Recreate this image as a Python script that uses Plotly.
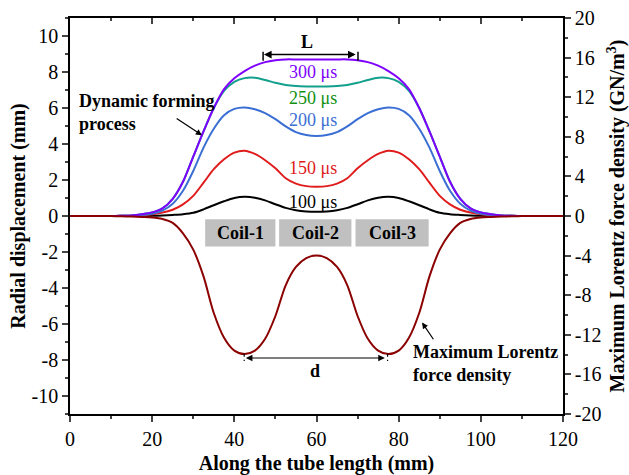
import plotly.graph_objects as go

# ---------------- data ----------------
x_mm = [0, 5, 10, 12.5, 15, 17.5, 20, 22.5, 25, 27.5, 30, 32.5, 35, 37.5, 40, 42.5, 45, 47.5, 50, 52.5, 55, 57.5, 60,
        62.5, 65, 67.5, 70, 72.5, 75, 77.5, 80, 82.5, 85, 87.5, 90, 92.5, 95, 97.5, 100, 102.5, 105, 107.5, 110, 115, 120]

disp_100us = [0, 0, 0, 0, 0, 0, 0.01, 0.03, 0.06, 0.1, 0.18, 0.37, 0.6, 0.82, 1.0, 1.07, 1.02, 0.87, 0.65, 0.45, 0.32, 0.25, 0.23,
              0.25, 0.32, 0.45, 0.65, 0.87, 1.02, 1.07, 1.0, 0.82, 0.6, 0.37, 0.18, 0.1, 0.06, 0.03, 0.01, 0, 0, 0, 0, 0, 0]
disp_150us = [0, 0, 0, 0.01, 0.02, 0.05, 0.1, 0.2, 0.35, 0.65, 1.12, 1.85, 2.6, 3.15, 3.52, 3.63, 3.45, 3.1, 2.65, 2.1, 1.8, 1.66, 1.63,
              1.66, 1.8, 2.1, 2.65, 3.1, 3.45, 3.63, 3.52, 3.15, 2.6, 1.85, 1.12, 0.65, 0.35, 0.2, 0.1, 0.05, 0.02, 0.01, 0, 0, 0]
disp_200us = [0, 0, 0, 0.01, 0.02, 0.06, 0.13, 0.3, 0.68, 1.4, 2.5, 3.8, 4.85, 5.6, 5.95, 6.03, 5.93, 5.72, 5.38, 4.98, 4.66, 4.5, 4.45,
              4.5, 4.66, 4.98, 5.38, 5.72, 5.93, 6.03, 5.95, 5.6, 4.85, 3.8, 2.5, 1.4, 0.68, 0.3, 0.13, 0.06, 0.02, 0.01, 0, 0, 0]
disp_250us = [0, 0, 0, 0.01, 0.03, 0.1, 0.2, 0.42, 0.95, 1.9, 3.3, 4.7, 6.0, 6.95, 7.45, 7.66, 7.68, 7.56, 7.4, 7.28, 7.22, 7.2, 7.2,
              7.2, 7.22, 7.28, 7.4, 7.56, 7.68, 7.66, 7.45, 6.95, 6.0, 4.7, 3.3, 1.9, 0.95, 0.42, 0.2, 0.1, 0.03, 0.01, 0, 0, 0]
disp_300us = [0, 0, 0, 0.01, 0.03, 0.1, 0.2, 0.42, 0.95, 1.9, 3.3, 4.7, 6.0, 7.05, 7.65, 8.05, 8.35, 8.55, 8.65, 8.7, 8.7, 8.7, 8.7,
              8.7, 8.7, 8.7, 8.65, 8.55, 8.35, 8.05, 7.65, 7.05, 6.0, 4.7, 3.3, 1.9, 0.95, 0.42, 0.2, 0.1, 0.03, 0.01, 0, 0, 0]
lorentz_max = [0, 0, -0.01, -0.03, -0.06, -0.1, -0.15, -0.3, -0.7, -1.75, -3.4, -6.1, -9.8, -12.3, -13.6, -13.95, -13.6, -12.4, -10.1, -7.0, -5.15, -4.25, -4.0,
               -4.25, -5.15, -7.0, -10.1, -12.4, -13.6, -13.95, -13.6, -12.3, -9.8, -6.1, -3.4, -1.75, -0.7, -0.3, -0.15, -0.1, -0.06, -0.03, -0.01, 0, 0]

series_names = ["100 μs", "150 μs", "200 μs", "250 μs", "300 μs"]
coil_names = ["Coil-1", "Coil-2", "Coil-3"]
coil_spans = [(32.9, 50.0), (50.9, 68.5), (69.5, 87.3)]

x_ticks = [0, 20, 40, 60, 80, 100, 120]
y_ticks = [-10, -8, -6, -4, -2, 0, 2, 4, 6, 8, 10]
y_ticktext = ["-10", "-8", "-6", "-4", "-2", "0", "2", "4", "6", "8", "10"]
y2_ticks = [-20, -16, -12, -8, -4, 0, 4, 8, 12, 16, 20]
y2_ticktext = ["-20", "-16", "-12", "-8", "-4", "0", "4", "8", "12", "16", "20"]

# ---------------- styling ----------------
FONT = "Liberation Serif"
line_colors = ["#000000", "#e01b1b", "#3b6fd4", "#12a08c", "#8000ff"]
label_colors = ["#000000", "#e01b1b", "#3b6fd4", "#109010", "#8000ff"]
label_y = [0.8, 2.65, 5.36, 6.58, 8.0]
lorentz_color = "#8b0000"

fig = go.Figure()
for name, ys, c in zip(series_names, [disp_100us, disp_150us, disp_200us, disp_250us, disp_300us], line_colors):
    fig.add_trace(go.Scatter(x=x_mm, y=ys, mode="lines", name=name,
                             line=dict(color=c, width=2, shape="spline", smoothing=0.8),
                             xaxis="x", yaxis="y", showlegend=False))
fig.add_trace(go.Scatter(x=x_mm, y=lorentz_max, mode="lines", name="Lorentz",
                         line=dict(color=lorentz_color, width=2, shape="spline", smoothing=0.8),
                         xaxis="x", yaxis="y2", showlegend=False))
# helper trace so the top axis is drawn
fig.add_trace(go.Scatter(x=[x_ticks[0], x_ticks[-1]], y=[0, 0], mode="lines", line=dict(width=0),
                         opacity=0, hoverinfo="skip", showlegend=False, xaxis="x2", yaxis="y"))

tickfont = dict(family=FONT, size=20, color="black")
titlefont = dict(family=FONT, size=20, color="black")

fig.update_layout(
    width=629, height=475,
    margin=dict(l=70, r=65.5, t=17.5, b=61, autoexpand=False),
    paper_bgcolor="white", plot_bgcolor="white",
    font=dict(family=FONT, color="black"),
    xaxis=dict(range=[0, 120], tickvals=x_ticks, ticks="outside", ticklen=6, tickwidth=1.5,
               minor=dict(dtick=10, ticks="outside", ticklen=3.5, tickwidth=1.5),
               showline=True, linewidth=1.5, linecolor="black", showgrid=False, zeroline=False,
               tickfont=tickfont, automargin=False,
               title=dict(text="<b>Along the tube length (mm)</b>", font=titlefont, standoff=8)),
    xaxis2=dict(range=[0, 120], overlaying="x", side="top", anchor="y", tickvals=x_ticks,
                ticks="inside", ticklen=6, tickwidth=1.5,
                minor=dict(dtick=10, ticks="inside", ticklen=3.5, tickwidth=1.5),
                showticklabels=False, showline=True, linewidth=1.5, linecolor="black",
                showgrid=False, zeroline=False, automargin=False),
    yaxis=dict(range=[-11, 11], tickvals=y_ticks, ticktext=y_ticktext, ticks="outside", ticklen=6, tickwidth=1.5,
               minor=dict(dtick=1, ticks="outside", ticklen=3.5, tickwidth=1.5),
               showline=True, linewidth=1.5, linecolor="black", showgrid=False, zeroline=False,
               tickfont=tickfont, automargin=False,
               title=dict(text="<b>Radial displacement (mm)</b>", font=titlefont, standoff=1)),
    yaxis2=dict(range=[-20, 20], overlaying="y", side="right", anchor="x", tickvals=y2_ticks, ticktext=y2_ticktext,
                ticks="outside", ticklen=6, tickwidth=1.5,
                minor=dict(dtick=2, ticks="outside", ticklen=3.5, tickwidth=1.5),
                showline=True, linewidth=1.5, linecolor="black", showgrid=False, zeroline=False,
                tickfont=tickfont, automargin=False,
                title=dict(text="<b>Maximum Lorentz force density (GN/m<sup>3</sup>)</b>", font=titlefont, standoff=11)),
)

# coil boxes
for name, (a, b) in zip(coil_names, coil_spans):
    fig.add_shape(type="rect", xref="x", yref="y", x0=a, x1=b, y0=-1.7, y1=-0.18,
                  fillcolor="#c0c0c0", line=dict(width=0), layer="below")
    fig.add_annotation(x=(a + b) / 2, y=-0.94, xref="x", yref="y", text=f"<b>{name}</b>", showarrow=False,
                       font=dict(family=FONT, size=18, color="black"))

# time labels
for name, yv, c in zip(series_names, label_y, label_colors):
    fig.add_annotation(x=59.2, y=yv, xref="x", yref="y", text=name, showarrow=False,
                       font=dict(family=FONT, size=18, color=c))

# L dimension
fig.add_annotation(x=47.2, y=8.97, ax=69.9, ay=8.97, xref="x", yref="y", axref="x", ayref="y",
                   text="", showarrow=True, arrowhead=2, startarrowhead=2, arrowside="end+start",
                   arrowsize=1.1, startarrowsize=1.1, arrowwidth=1.4, arrowcolor="black")
for xv in [47.0, 70.1]:
    fig.add_shape(type="line", xref="x", yref="y", x0=xv, x1=xv, y0=8.63, y1=9.12,
                  line=dict(color="black", width=1.5))
fig.add_annotation(x=57.8, y=9.65, xref="x", yref="y", text="<b>L</b>", showarrow=False,
                   font=dict(family=FONT, size=18, color="black"))

# d dimension
fig.add_annotation(x=42.8, y=-7.89, ax=77.0, ay=-7.89, xref="x", yref="y", axref="x", ayref="y",
                   text="", showarrow=True, arrowhead=2, startarrowhead=2, arrowside="end+start",
                   arrowsize=1.1, startarrowsize=1.1, arrowwidth=1.2, arrowcolor="black")
for xv in [42.4, 77.3]:
    fig.add_shape(type="line", xref="x", yref="y", x0=xv, x1=xv, y0=-7.65, y1=-8.05,
                  line=dict(color="black", width=1.2, dash="dot"))
fig.add_annotation(x=59.7, y=-8.6, xref="x", yref="y", text="<b>d</b>", showarrow=False,
                   font=dict(family=FONT, size=18, color="black"))

# descriptive notes
fig.add_annotation(x=1.8, y=5.77, xref="x", yref="y", text="<b>Dynamic forming<br>process</b>",
                   showarrow=False, align="left", xanchor="left",
                   font=dict(family=FONT, size=18, color="black"))
fig.add_annotation(x=32.1, y=4.49, ax=25.6, ay=5.47, xref="x", yref="y", axref="x", ayref="y",
                   text="", showarrow=True, arrowhead=2, arrowsize=1, arrowwidth=1.2, arrowcolor="black")
fig.add_annotation(x=82.9, y=-8.2, xref="x", yref="y", text="<b>Maximum Lorentz<br>force density</b>",
                   showarrow=False, align="left", xanchor="left",
                   font=dict(family=FONT, size=18, color="black"))
fig.add_annotation(x=85.7, y=-5.92, ax=88.7, ay=-6.93, xref="x", yref="y", axref="x", ayref="y",
                   text="", showarrow=True, arrowhead=2, arrowsize=1, arrowwidth=1.2, arrowcolor="black")

fig.write_html("out.html")
